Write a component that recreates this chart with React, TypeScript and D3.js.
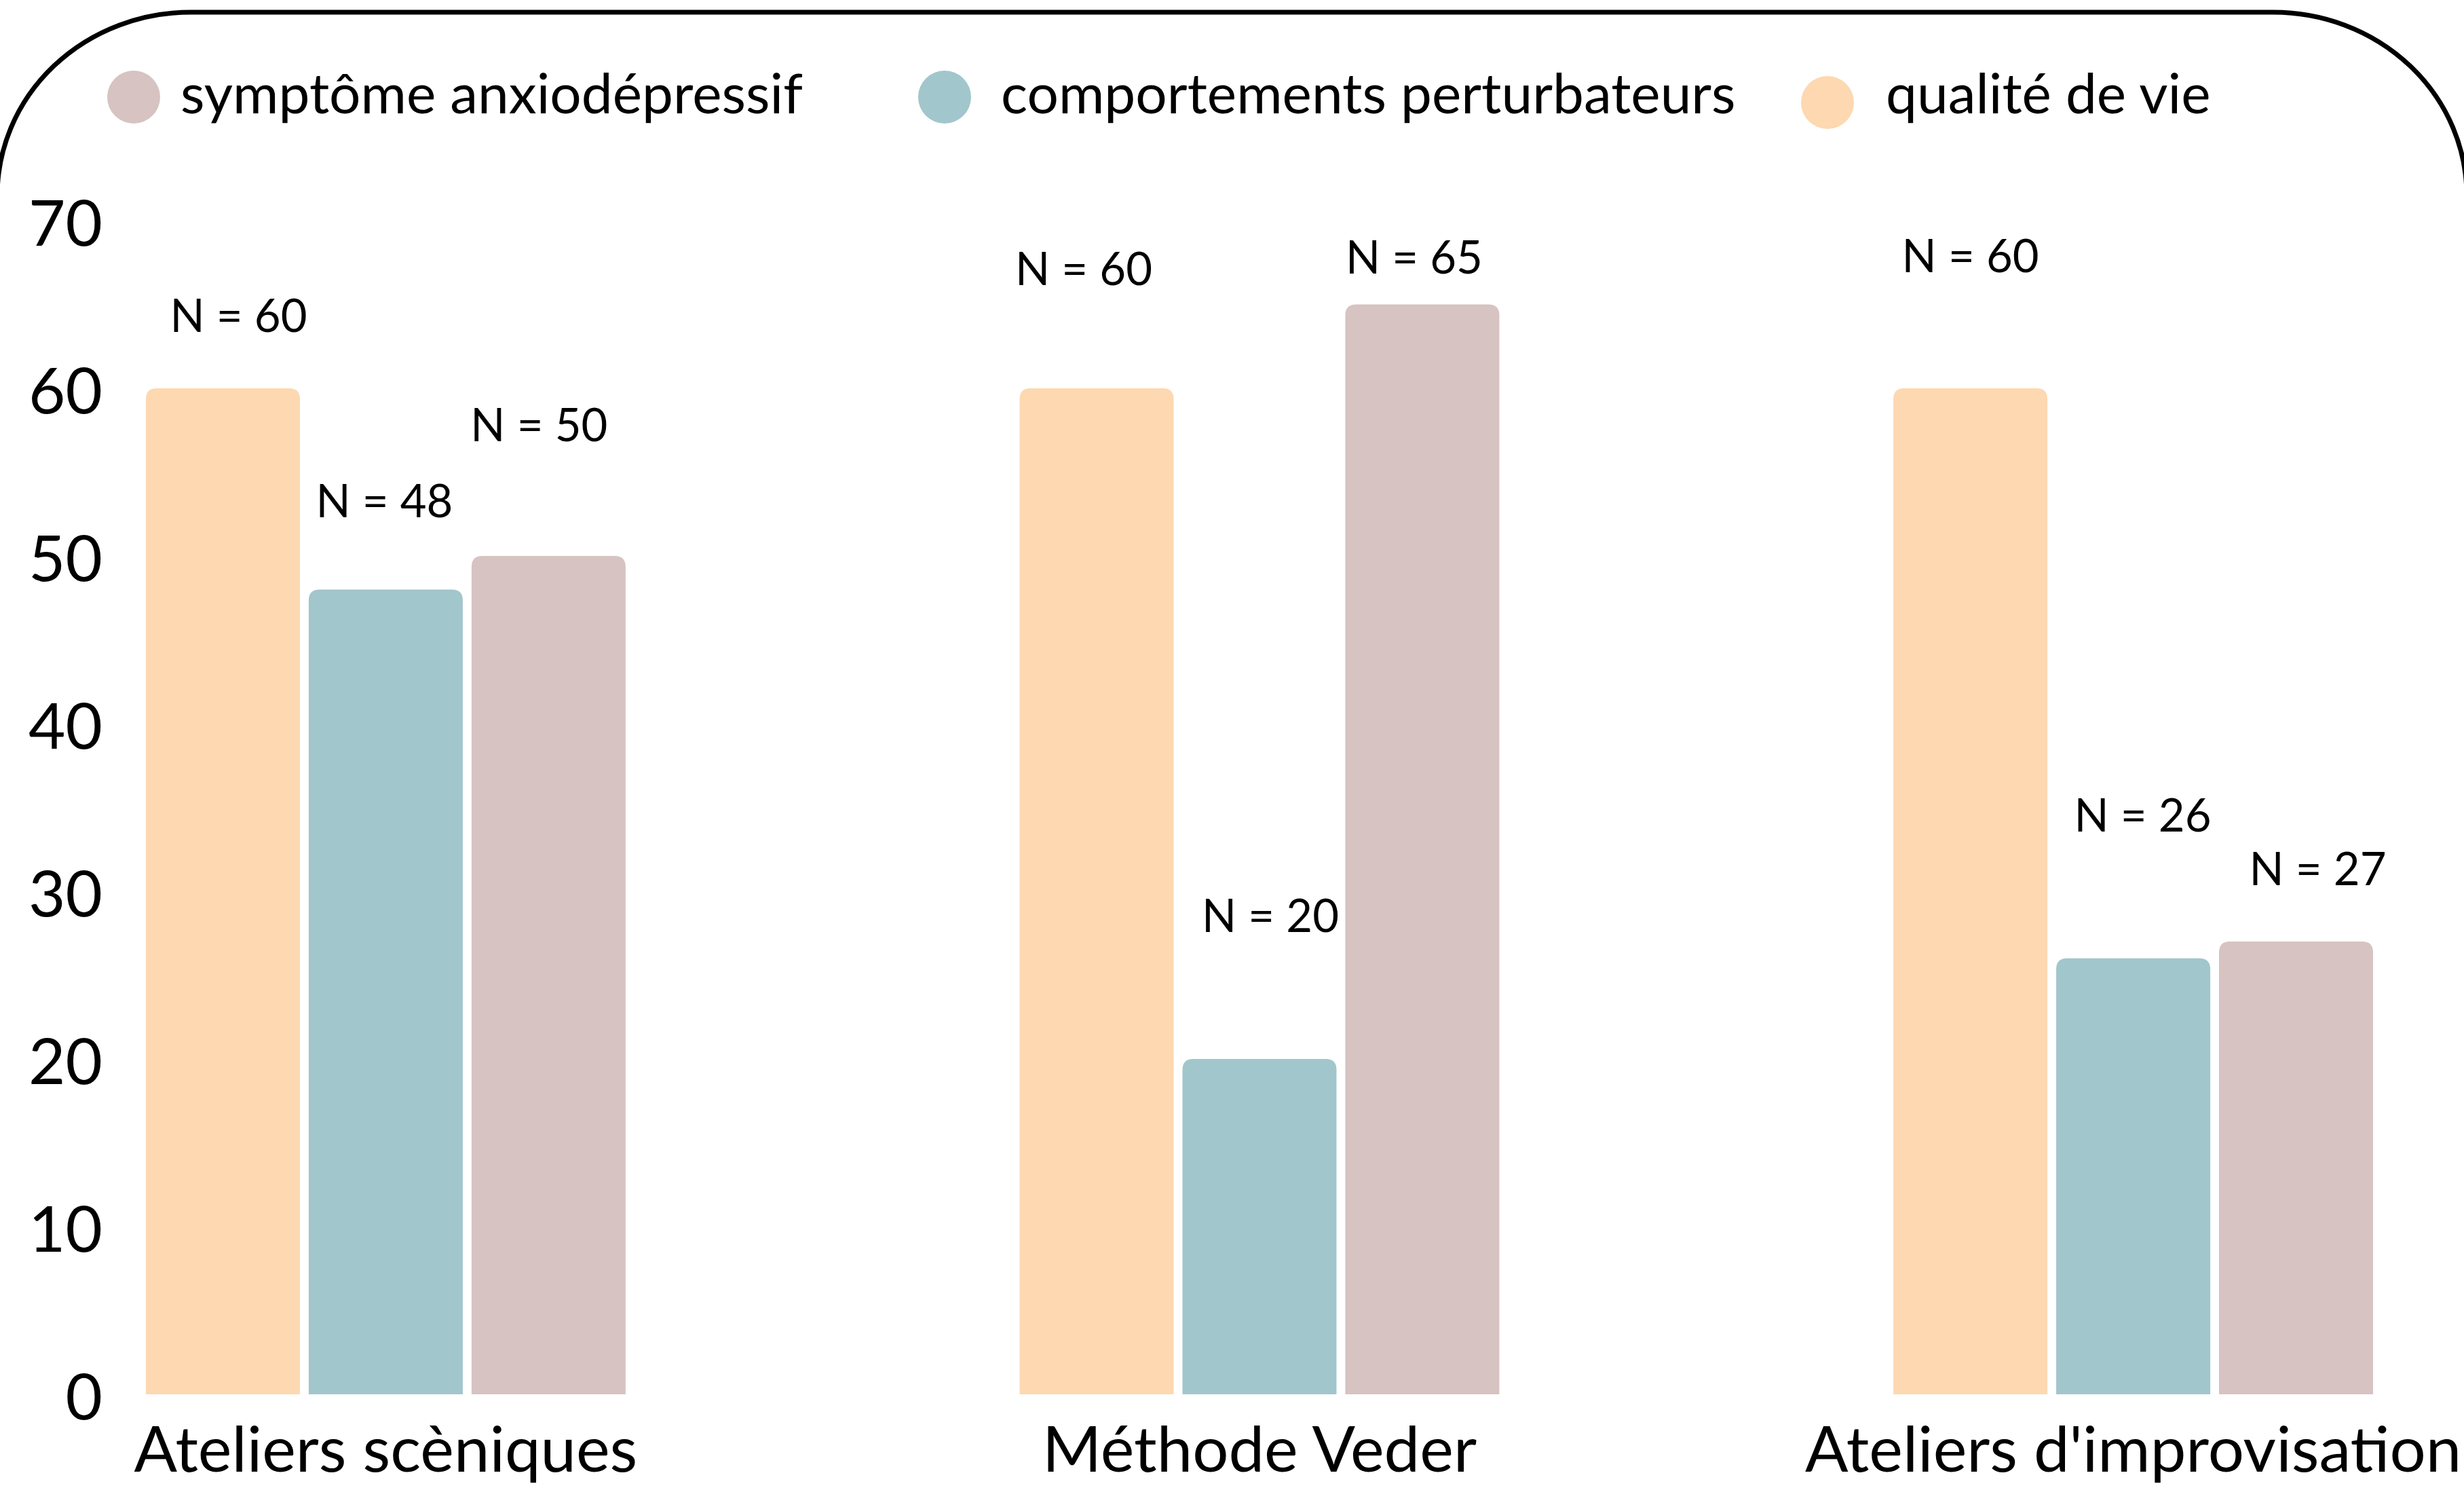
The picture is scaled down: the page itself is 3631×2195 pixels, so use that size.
import * as d3 from "d3";
import { useEffect } from "react";

// chart data
const groups = ["Ateliers scèniques", "Méthode Veder", "Ateliers d'improvisation"];
const seriesKeys = ["qualite", "comportements", "symptome"];
const seriesNames = ["qualité de vie", "comportements perturbateurs", "symptôme anxiodépressif"];
const seriesColors = ["#FDD8B1", "#A1C6CC", "#D6C3C2"];
const qualiteVals = [60, 60, 60];
const comportementsVals = [48, 20, 26];
const symptomeVals = [50, 65, 27];
const yTicks = [0, 10, 20, 30, 40, 50, 60, 70];

// legend order as drawn
const legendOrder = [2, 1, 0];

// hand placed N labels: offset from bar centre / bar top (px)
const labelDx = [
  [23, -2, -14],
  [-19, 16, -12],
  [0, 14, 32],
];
const labelDy = [
  [-109, -132, -195],
  [-178, -213, -72],
  [-197, -213, -109],
];

const W = 3631;
const H = 2195;
const FONT = "Lato, 'Open Sans', sans-serif";

export default function App() {
  useEffect(() => {
    document.body.style.margin = "0";
  }, []);

  const valuesBySeries = [qualiteVals, comportementsVals, symptomeVals];

  const y = d3.scaleLinear().domain([0, 70]).range([2054, 325]);

  const x0 = d3.scaleBand<string>().domain(groups).range([215, 3497]).paddingInner(0.451).paddingOuter(0);

  const x1 = d3.scaleBand<string>().domain(seriesKeys).range([0, x0.bandwidth()]).paddingInner(0.054);

  const r = 16;
  const barPath = (x: number, top: number, w: number, bottom: number) => {
    const h = bottom - top;
    const rr = Math.min(r, h / 2, w / 2);
    const p = d3.path();
    p.moveTo(x, bottom);
    p.lineTo(x, top + rr);
    p.quadraticCurveTo(x, top, x + rr, top);
    p.lineTo(x + w - rr, top);
    p.quadraticCurveTo(x + w, top, x + w, top + rr);
    p.lineTo(x + w, bottom);
    p.closePath();
    return p.toString();
  };

  const legendX = [197, 1392, 2693];
  const legendY = [143, 143, 151];
  const legendTextX = [266, 1475, 2779];

  return (
    <svg width={W} height={H} style={{ position: "absolute", left: 0, top: 0, background: "#fff" }}>
      <rect x={-4} y={18} width={W + 8} height={H + 400} rx={285} ry={270} fill="none" stroke="#000" strokeWidth={7} />

      {/* legend */}
      {legendOrder.map((si, i) => (
        <g key={si}>
          <circle cx={legendX[i]} cy={legendY[i]} r={39} fill={seriesColors[si]} />
          <text x={legendTextX[i]} y={167} fontFamily={FONT} fontSize={82} fill="#000">
            {seriesNames[si]}
          </text>
        </g>
      ))}

      {/* y axis labels */}
      {yTicks.map((t) => (
        <text key={t} x={151} y={y(t)} textAnchor="end" dominantBaseline="central" fontFamily={FONT} fontSize={94} fill="#000">
          {t}
        </text>
      ))}

      {/* bars */}
      {groups.map((g, gi) => (
        <g key={g} transform={`translate(${x0(g)},0)`}>
          {seriesKeys.map((k, si) => {
            const v = valuesBySeries[si][gi];
            const bx = x1(k) as number;
            const bw = x1.bandwidth();
            return (
              <g key={k}>
                <path d={barPath(bx, y(v), bw, y(0))} fill={seriesColors[si]} />
                <text
                  x={bx + bw / 2 + labelDx[gi][si]}
                  y={y(v) + labelDy[gi][si]}
                  textAnchor="middle"
                  dominantBaseline="central"
                  fontFamily={FONT}
                  fontSize={67}
                  fill="#000"
                >
                  {`N = ${v}`}
                </text>
              </g>
            );
          })}
          <text x={x0.bandwidth() / 2} y={2168} textAnchor="middle" fontFamily={FONT} fontSize={94} fill="#000">
            {g}
          </text>
        </g>
      ))}
    </svg>
  );
}
